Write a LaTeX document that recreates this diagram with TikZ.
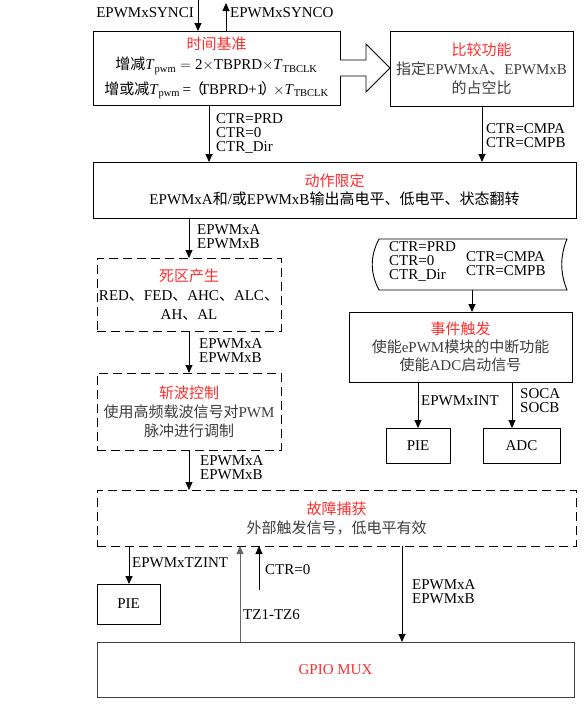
\documentclass[tikz,border=0pt]{standalone}
\usepackage{fontspec}
\setmainfont{Liberation Serif}
\newfontfamily\cjk{Noto Sans CJK SC}
\newcommand{\zh}[1]{{\cjk #1}}
\usetikzlibrary{arrows.meta,positioning}
\definecolor{titlered}{RGB}{255,45,45}
\definecolor{txtgray}{RGB}{60,60,60}

\begin{document}
\begin{tikzpicture}[x=1pt,y=-1pt,
  font=\fontsize{15}{16}\selectfont,
  box/.style={draw,line width=0.9pt,inner sep=0pt,outer sep=0pt,anchor=north west,align=center},
  dbox/.style={box,dash pattern=on 9pt off 5pt},
  lbl/.style={anchor=north west,inner sep=0pt,align=left,font=\fontsize{15}{14}\selectfont},
  arr/.style={-{Triangle[length=8pt,width=7pt]},line width=0.9pt}]
\useasboundingbox (0,0) rectangle (588,718);

% boxes
\node[box,minimum width=247,minimum height=74] (tb) at (93,31)
  {{\color{titlered}\zh{时间基准}}\\[4pt]
   \zh{增减}\textit{T}\textsubscript{pwm}${}={}$2$\times$TBPRD$\times$\textit{T}\textsubscript{TBCLK}\\[6pt]
   \zh{增或减}\textit{T}\textsubscript{pwm}\,=\hspace{-2pt}\zh{（}\hspace{-4pt}TBPRD+1\hspace{-3pt}\zh{）}\hspace{-3pt}$\times$\textit{T}\textsubscript{TBCLK}};
\node[box,text=txtgray,minimum width=183,minimum height=75] (cmp) at (390,31)
  {{\color{titlered}\zh{比较功能}}\\[3pt] \zh{指定}EPWMxA\zh{、}EPWMxB\\[3pt] \zh{的占空比}};
\node[box,minimum width=483,minimum height=56] (act) at (93,162)
  {{\color{titlered}\zh{动作限定}}\\[2pt] EPWMxA\zh{和}/\zh{或}EPWMxB\zh{输出高电平、低电平、状态翻转}};
\node[dbox,minimum width=184,minimum height=73] (db) at (97,258)
  {{\color{titlered}\zh{死区产生}}\\[3pt] RED\zh{、}FED\zh{、}AHC\zh{、}ALC\zh{、}\\[3pt] AH\zh{、}AL};
\node[dbox,text=txtgray,minimum width=184,minimum height=77] (pc) at (97,373)
  {{\color{titlered}\zh{斩波控制}}\\[3pt] \zh{使用高频载波信号对}PWM\\[3pt] \zh{脉冲进行调制}};
\node[dbox,text=txtgray,minimum width=479,minimum height=56] (tz) at (97,490)
  {{\color{titlered}\zh{故障捕获}}\\[3pt] \zh{外部触发信号，低电平有效}};
\node[box,minimum width=63,minimum height=40] (pie1) at (97,584) {PIE};
\node[box,draw=black!75,minimum width=477,minimum height=55] (gpio) at (97,642)
  {\color{titlered}GPIO MUX};
\node[box,text=txtgray,minimum width=223,minimum height=70] (et) at (349,312)
  {{\color{titlered}\zh{事件触发}}\\[2pt] \zh{使能}ePWM\zh{模块的中断功能}\\[2pt] \zh{使能}ADC\zh{启动信号}};
\node[box,minimum width=64,minimum height=35] (pie2) at (386,428) {PIE};
\node[box,minimum width=77,minimum height=35] (adc) at (483,428) {ADC};

% stored data shape
\node[inner sep=0pt,outer sep=0pt,minimum width=188,minimum height=51] (tape) at (473,264.5) {};
\draw[line width=0.9pt] (tape.north west) -- (tape.north east)
  .. controls +(-7,17) and +(-7,-17) .. (tape.south east) -- (tape.south west)
  .. controls +(-9,-17) and +(-9,17) .. (tape.north west);
\node[lbl] (tp1) at (389,241) {CTR=PRD\\CTR=0\\CTR\_Dir};
\node[lbl] (tp2) at (466,251) {CTR=CMPA\\CTR=CMPB};

% hollow arrow
\draw[line width=0.9pt,fill=white] (tb.east) ++(0,-8) -- ++(26,0) -- ++(0,-16)
  -- (cmp.west |- tb.east) -- ++(-24,24) -- ++(0,-16) -- ++(-26,0);

% columns
\coordinate (syi) at (198,0);
\coordinate (syo) at (226,3);
\coordinate (ca) at (209,0);
\coordinate (cb) at (482,0);
\coordinate (cc) at (189,0);
\coordinate (cd) at (129,0);
\coordinate (ce) at (240,0);
\coordinate (cf) at (259,590);
\coordinate (cg) at (402,0);
\coordinate (ch) at (472,0);
\coordinate (ci) at (418,0);
\coordinate (cj) at (512,0);

% connectors
\draw[arr] (syi) -- (syi |- tb.north);
\draw[arr] (syo |- tb.north) -- (syo);
\draw[arr] (tb.south -| ca) -- (act.north -| ca);
\draw[arr] (cmp.south -| cb) -- (act.north -| cb);
\draw[arr] (act.south -| cc) -- (db.north -| cc);
\draw[arr] (db.south -| cc) -- (pc.north -| cc);
\draw[arr] (pc.south -| cc) -- (tz.north -| cc);
\draw[arr] (tz.south -| cd) -- (pie1.north -| cd);
\draw[arr,draw=black!60] (gpio.north -| ce) -- (tz.south -| ce);
\draw[arr] (cf) -- (tz.south -| cf);
\draw[arr] (tz.south -| cg) -- (gpio.north -| cg);
\draw[arr] (tape.south -| ch) -- (et.north -| ch);
\draw[arr] (et.south -| ci) -- (pie2.north -| ci);
\draw[arr] (et.south -| cj) -- (adc.north -| cj);

% labels
\node[lbl,anchor=north east] (lsyi) at (194,7) {EPWMxSYNCI};
\node[lbl] (lsyo) at (230,7) {EPWMxSYNCO};
\node[lbl] (lctr) at (216,113) {CTR=PRD\\CTR=0\\CTR\_Dir};
\node[lbl] (lcmp) at (486,123) {CTR=CMPA\\CTR=CMPB};
\node[lbl] (lab1) at (197,224) {EPWMxA\\EPWMxB};
\node[lbl] (lab2) at (199,338) {EPWMxA\\EPWMxB};
\node[lbl] (lab3) at (200,455) {EPWMxA\\EPWMxB};
\node[lbl] (ltzi) at (132,557) {EPWMxTZINT};
\node[lbl] (lct0) at (265,564) {CTR=0};
\node[lbl] (ltz) at (243,609) {TZ1-TZ6};
\node[lbl] (lab4) at (412,579) {EPWMxA\\EPWMxB};
\node[lbl] (lint) at (421,395) {EPWMxINT};
\node[lbl] (lsoc) at (520,388) {SOCA\\SOCB};
\end{tikzpicture}
\end{document}
